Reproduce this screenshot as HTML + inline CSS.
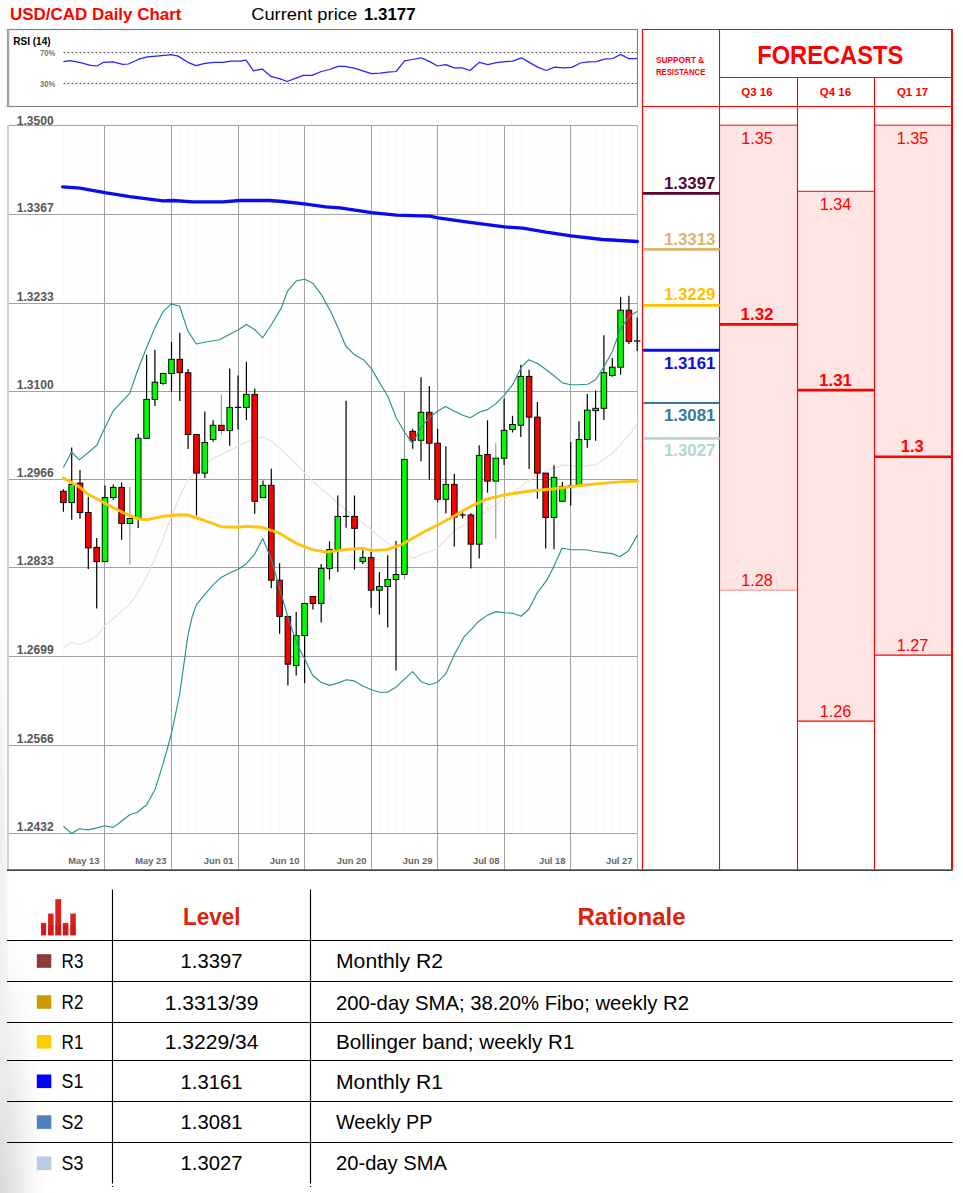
<!DOCTYPE html>
<html><head><meta charset="utf-8"><title>USD/CAD Daily Chart</title>
<style>html,body{margin:0;padding:0;background:#fff}svg{display:block}text{font-family:"Liberation Sans",sans-serif}</style></head><body>
<svg width="963" height="1193" viewBox="0 0 963 1193">
<rect width="963" height="1193" fill="#fff"/>
<defs><radialGradient id="sh" cx="0" cy="1" r="1"><stop offset="0" stop-color="#d9d9d9"/><stop offset="0.4" stop-color="#ededed"/><stop offset="1" stop-color="#fff" stop-opacity="0"/></radialGradient><radialGradient id="sh2" cx="0" cy="1" r="1"><stop offset="0" stop-color="#e6e6e6"/><stop offset="0.7" stop-color="#f2f2f2"/><stop offset="1" stop-color="#fff" stop-opacity="0"/></radialGradient></defs>
<rect x="0" y="540" width="11" height="653" fill="url(#sh2)"/>
<rect x="0" y="850" width="54" height="343" fill="url(#sh)"/>
<text x="10" y="20" font-size="16.8" font-weight="bold" fill="#f00" textLength="171.5" lengthAdjust="spacingAndGlyphs">USD/CAD Daily Chart</text>
<text x="251.2" y="19.8" font-size="16.8" fill="#000" textLength="105.9" lengthAdjust="spacingAndGlyphs">Current price</text>
<text x="363.9" y="19.8" font-size="16.8" font-weight="bold" fill="#000" textLength="51.8" lengthAdjust="spacingAndGlyphs">1.3177</text>
<rect x="7.5" y="29.5" width="630" height="77" fill="#fff" stroke="#7f7f7f" stroke-width="1.1"/>
<line x1="8.3" y1="29.5" x2="8.3" y2="106.5" stroke="#a6a6a6" stroke-width="2"/>
<text x="13.2" y="45.4" font-size="11" font-weight="bold" fill="#000" textLength="37.4" lengthAdjust="spacingAndGlyphs">RSI (14)</text>
<text x="40" y="55.7" font-size="8.2" font-weight="bold" fill="#777" textLength="15.3" lengthAdjust="spacingAndGlyphs">70%</text>
<text x="40" y="87.2" font-size="8.2" font-weight="bold" fill="#777" textLength="15.3" lengthAdjust="spacingAndGlyphs">30%</text>
<line x1="63.5" y1="52.5" x2="637" y2="52.5" stroke="#555" stroke-width="1" stroke-dasharray="2 2"/>
<line x1="63.5" y1="83.5" x2="637" y2="83.5" stroke="#555" stroke-width="1" stroke-dasharray="2 2"/>
<polyline points="63.4,61.6 70.2,60.6 80.5,62.6 90.8,65.4 97.0,66.0 103.8,62.3 113.0,61.9 122.7,64.3 128.5,64.0 138.8,59.2 147.4,56.8 159.4,55.8 171.3,54.7 178.2,56.1 187.8,62.3 196.0,65.7 205.0,63.3 214.2,62.3 222.7,62.3 231.3,61.2 239.9,61.2 246.0,60.2 253.6,70.8 262.2,69.1 271.4,76.7 279.3,78.7 287.2,81.5 295.4,78.4 303.3,75.3 311.8,75.3 321.4,71.5 329.6,69.5 337.8,66.4 344.7,66.4 354.3,68.1 362.8,70.8 371.4,73.6 380.0,73.2 387.9,72.2 396.1,71.5 404.6,60.9 412.5,59.5 421.1,57.8 429.7,61.6 437.5,66.0 445.8,64.7 454.3,67.8 462.2,67.8 470.1,70.5 479.4,62.3 487.9,64.7 496.5,62.6 505.0,61.6 512.6,61.2 521.5,57.8 529.7,62.6 537.6,67.1 546.2,70.5 554.7,67.1 563.3,67.8 571.9,67.4 580.4,63.0 588.3,61.9 596.5,61.6 604.4,59.2 613.0,58.5 620.5,54.4 628.4,58.5 637.0,58.5" fill="none" stroke="#2424f8" stroke-width="1.25" stroke-linejoin="round"/>
<g stroke="#fafafa" stroke-width="1">
<line x1="63.4" y1="126" x2="63.4" y2="833"/>
<line x1="71.7" y1="126" x2="71.7" y2="833"/>
<line x1="80.0" y1="126" x2="80.0" y2="833"/>
<line x1="88.3" y1="126" x2="88.3" y2="833"/>
<line x1="96.7" y1="126" x2="96.7" y2="833"/>
<line x1="105.0" y1="126" x2="105.0" y2="833"/>
<line x1="113.3" y1="126" x2="113.3" y2="833"/>
<line x1="121.6" y1="126" x2="121.6" y2="833"/>
<line x1="129.9" y1="126" x2="129.9" y2="833"/>
<line x1="138.2" y1="126" x2="138.2" y2="833"/>
<line x1="146.6" y1="126" x2="146.6" y2="833"/>
<line x1="154.9" y1="126" x2="154.9" y2="833"/>
<line x1="163.2" y1="126" x2="163.2" y2="833"/>
<line x1="171.5" y1="126" x2="171.5" y2="833"/>
<line x1="179.8" y1="126" x2="179.8" y2="833"/>
<line x1="188.1" y1="126" x2="188.1" y2="833"/>
<line x1="196.5" y1="126" x2="196.5" y2="833"/>
<line x1="204.8" y1="126" x2="204.8" y2="833"/>
<line x1="213.1" y1="126" x2="213.1" y2="833"/>
<line x1="221.4" y1="126" x2="221.4" y2="833"/>
<line x1="229.7" y1="126" x2="229.7" y2="833"/>
<line x1="238.0" y1="126" x2="238.0" y2="833"/>
<line x1="246.4" y1="126" x2="246.4" y2="833"/>
<line x1="254.7" y1="126" x2="254.7" y2="833"/>
<line x1="263.0" y1="126" x2="263.0" y2="833"/>
<line x1="271.3" y1="126" x2="271.3" y2="833"/>
<line x1="279.6" y1="126" x2="279.6" y2="833"/>
<line x1="287.9" y1="126" x2="287.9" y2="833"/>
<line x1="296.2" y1="126" x2="296.2" y2="833"/>
<line x1="304.6" y1="126" x2="304.6" y2="833"/>
<line x1="312.9" y1="126" x2="312.9" y2="833"/>
<line x1="321.2" y1="126" x2="321.2" y2="833"/>
<line x1="329.5" y1="126" x2="329.5" y2="833"/>
<line x1="337.8" y1="126" x2="337.8" y2="833"/>
<line x1="346.1" y1="126" x2="346.1" y2="833"/>
<line x1="354.5" y1="126" x2="354.5" y2="833"/>
<line x1="362.8" y1="126" x2="362.8" y2="833"/>
<line x1="371.1" y1="126" x2="371.1" y2="833"/>
<line x1="379.4" y1="126" x2="379.4" y2="833"/>
<line x1="387.7" y1="126" x2="387.7" y2="833"/>
<line x1="396.0" y1="126" x2="396.0" y2="833"/>
<line x1="404.4" y1="126" x2="404.4" y2="833"/>
<line x1="412.7" y1="126" x2="412.7" y2="833"/>
<line x1="421.0" y1="126" x2="421.0" y2="833"/>
<line x1="429.3" y1="126" x2="429.3" y2="833"/>
<line x1="437.6" y1="126" x2="437.6" y2="833"/>
<line x1="445.9" y1="126" x2="445.9" y2="833"/>
<line x1="454.3" y1="126" x2="454.3" y2="833"/>
<line x1="462.6" y1="126" x2="462.6" y2="833"/>
<line x1="470.9" y1="126" x2="470.9" y2="833"/>
<line x1="479.2" y1="126" x2="479.2" y2="833"/>
<line x1="487.5" y1="126" x2="487.5" y2="833"/>
<line x1="495.8" y1="126" x2="495.8" y2="833"/>
<line x1="504.1" y1="126" x2="504.1" y2="833"/>
<line x1="512.5" y1="126" x2="512.5" y2="833"/>
<line x1="520.8" y1="126" x2="520.8" y2="833"/>
<line x1="529.1" y1="126" x2="529.1" y2="833"/>
<line x1="537.4" y1="126" x2="537.4" y2="833"/>
<line x1="545.7" y1="126" x2="545.7" y2="833"/>
<line x1="554.0" y1="126" x2="554.0" y2="833"/>
<line x1="562.4" y1="126" x2="562.4" y2="833"/>
<line x1="570.7" y1="126" x2="570.7" y2="833"/>
<line x1="579.0" y1="126" x2="579.0" y2="833"/>
<line x1="587.3" y1="126" x2="587.3" y2="833"/>
<line x1="595.6" y1="126" x2="595.6" y2="833"/>
<line x1="603.9" y1="126" x2="603.9" y2="833"/>
<line x1="612.3" y1="126" x2="612.3" y2="833"/>
<line x1="620.6" y1="126" x2="620.6" y2="833"/>
<line x1="628.9" y1="126" x2="628.9" y2="833"/>
<line x1="637.2" y1="126" x2="637.2" y2="833"/>
</g>
<g stroke="#a2a2a2" stroke-width="1">
<line x1="8" y1="125.5" x2="637.5" y2="125.5"/>
<line x1="8" y1="214.5" x2="637.5" y2="214.5"/>
<line x1="8" y1="303.5" x2="637.5" y2="303.5"/>
<line x1="8" y1="391.5" x2="637.5" y2="391.5"/>
<line x1="8" y1="479.5" x2="637.5" y2="479.5"/>
<line x1="8" y1="567.5" x2="637.5" y2="567.5"/>
<line x1="8" y1="656.5" x2="637.5" y2="656.5"/>
<line x1="8" y1="745.5" x2="637.5" y2="745.5"/>
<line x1="8" y1="833.5" x2="637.5" y2="833.5"/>
<line x1="104.5" y1="125.5" x2="104.5" y2="869.5"/>
<line x1="171.5" y1="125.5" x2="171.5" y2="869.5"/>
<line x1="238.5" y1="125.5" x2="238.5" y2="869.5"/>
<line x1="304.5" y1="125.5" x2="304.5" y2="869.5"/>
<line x1="371.5" y1="125.5" x2="371.5" y2="869.5"/>
<line x1="437.5" y1="125.5" x2="437.5" y2="869.5"/>
<line x1="504.5" y1="125.5" x2="504.5" y2="869.5"/>
<line x1="570.5" y1="125.5" x2="570.5" y2="869.5"/>
</g>
<line x1="637.5" y1="125.5" x2="637.5" y2="869.5" stroke="#b5b5b5" stroke-width="1"/>
<line x1="8" y1="125" x2="8" y2="869.5" stroke="#cfcfcf" stroke-width="2"/>
<text x="16.8" y="124.7" font-size="12" font-weight="bold" fill="#555" textLength="36.8" lengthAdjust="spacingAndGlyphs">1.3500</text>
<text x="16.8" y="212.3" font-size="12" font-weight="bold" fill="#555" textLength="36.8" lengthAdjust="spacingAndGlyphs">1.3367</text>
<text x="16.8" y="301.3" font-size="12" font-weight="bold" fill="#555" textLength="36.8" lengthAdjust="spacingAndGlyphs">1.3233</text>
<text x="16.8" y="389.3" font-size="12" font-weight="bold" fill="#555" textLength="36.8" lengthAdjust="spacingAndGlyphs">1.3100</text>
<text x="16.8" y="477.3" font-size="12" font-weight="bold" fill="#555" textLength="36.8" lengthAdjust="spacingAndGlyphs">1.2966</text>
<text x="16.8" y="565.3" font-size="12" font-weight="bold" fill="#555" textLength="36.8" lengthAdjust="spacingAndGlyphs">1.2833</text>
<text x="16.8" y="654.3" font-size="12" font-weight="bold" fill="#555" textLength="36.8" lengthAdjust="spacingAndGlyphs">1.2699</text>
<text x="16.8" y="743.3" font-size="12" font-weight="bold" fill="#555" textLength="36.8" lengthAdjust="spacingAndGlyphs">1.2566</text>
<text x="16.8" y="831.3" font-size="12" font-weight="bold" fill="#555" textLength="36.8" lengthAdjust="spacingAndGlyphs">1.2432</text>
<text x="99.5" y="864.3" font-size="9.4" font-weight="bold" fill="#666" text-anchor="end">May 13</text>
<text x="166.5" y="864.3" font-size="9.4" font-weight="bold" fill="#666" text-anchor="end">May 23</text>
<text x="233.5" y="864.3" font-size="9.4" font-weight="bold" fill="#666" text-anchor="end">Jun 01</text>
<text x="299.5" y="864.3" font-size="9.4" font-weight="bold" fill="#666" text-anchor="end">Jun 10</text>
<text x="366.5" y="864.3" font-size="9.4" font-weight="bold" fill="#666" text-anchor="end">Jun 20</text>
<text x="432.5" y="864.3" font-size="9.4" font-weight="bold" fill="#666" text-anchor="end">Jun 29</text>
<text x="499.5" y="864.3" font-size="9.4" font-weight="bold" fill="#666" text-anchor="end">Jul 08</text>
<text x="565.5" y="864.3" font-size="9.4" font-weight="bold" fill="#666" text-anchor="end">Jul 18</text>
<text x="632.5" y="864.3" font-size="9.4" font-weight="bold" fill="#666" text-anchor="end">Jul 27</text>
<polyline points="63.4,647.7 71.4,642.2 79.4,644.7 88.3,641.0 97.1,636.0 104.3,626.0 113.3,618.6 121.5,611.1 129.7,604.4 137.4,593.6 146.7,576.7 155.1,558.0 162.9,539.2 171.3,516.8 179.6,496.8 188.0,479.4 196.3,471.9 204.5,464.4 213.5,458.2 229.4,450.7 246.4,442.0 262.7,436.9 271.4,441.2 279.9,448.7 297.3,464.9 312.3,481.1 329.7,496.0 347.2,511.0 364.6,524.2 379.6,537.1 396.5,549.6 408.7,556.6 415.0,557.9 421.2,554.6 432.4,550.4 437.6,548.3 454.6,530.5 471.8,520.9 479.3,515.0 504.4,499.3 528.6,480.6 546.3,470.7 562.5,464.9 579.4,466.4 595.6,464.9 612.6,453.2 629.5,434.5 637.5,423.3" fill="none" stroke="#e2e2e2" stroke-width="1.1" stroke-linejoin="round"/>
<polyline points="62.6,186.9 79.9,188.2 104.8,192.6 129.7,196.6 163.0,200.9 172.9,200.5 192.9,201.9 222.8,201.9 239.4,200.5 269.3,200.5 282.6,201.5 304.2,203.9 325.8,206.9 340.0,207.9 371.6,212.6 396.5,215.2 429.7,216.2 438.0,217.9 466.3,221.9 504.5,226.9 522.8,228.2 546.0,232.2 571.0,235.8 602.5,239.5 637.4,241.5" fill="none" stroke="#0a0af4" stroke-width="3.3" stroke-linejoin="round" stroke-linecap="round"/>
<g stroke="#000">
<line x1="63.4" y1="489.3" x2="63.4" y2="511.8" stroke="#000" stroke-width="1.2"/>
<rect x="60.6" y="491.3" width="5.6" height="11.3" fill="#fc0000" stroke-width="0.95"/>
<line x1="71.7" y1="447.5" x2="71.7" y2="519.8" stroke="#000" stroke-width="1.2"/>
<rect x="68.9" y="484.4" width="5.6" height="18.2" fill="#00fc00" stroke-width="0.95"/>
<line x1="80.0" y1="469.9" x2="80.0" y2="518.8" stroke="#000" stroke-width="1.2"/>
<rect x="77.2" y="483.1" width="5.6" height="29.4" fill="#fc0000" stroke-width="0.95"/>
<line x1="88.3" y1="496.8" x2="88.3" y2="569.1" stroke="#000" stroke-width="1.2"/>
<rect x="85.5" y="512.5" width="5.6" height="35.4" fill="#fc0000" stroke-width="0.95"/>
<line x1="96.7" y1="537.9" x2="96.7" y2="608.6" stroke="#000" stroke-width="1.2"/>
<rect x="93.9" y="547.4" width="5.6" height="14.2" fill="#fc0000" stroke-width="0.95"/>
<line x1="105.0" y1="485.6" x2="105.0" y2="561.6" stroke="#000" stroke-width="1.2"/>
<rect x="102.2" y="497.6" width="5.6" height="64.0" fill="#00fc00" stroke-width="0.95"/>
<line x1="113.3" y1="484.4" x2="113.3" y2="499.8" stroke="#000" stroke-width="1.2"/>
<rect x="110.5" y="487.4" width="5.6" height="10.2" fill="#00fc00" stroke-width="0.95"/>
<line x1="121.6" y1="482.4" x2="121.6" y2="539.7" stroke="#000" stroke-width="1.2"/>
<rect x="118.8" y="487.4" width="5.6" height="36.1" fill="#fc0000" stroke-width="0.95"/>
<line x1="129.9" y1="486.9" x2="129.9" y2="564.6" stroke="#8a8a8a" stroke-width="1.0"/>
<rect x="127.1" y="518.5" width="5.6" height="5.0" fill="#00fc00" stroke-width="0.95"/>
<line x1="138.2" y1="433.8" x2="138.2" y2="528.0" stroke="#000" stroke-width="1.2"/>
<rect x="135.4" y="438.3" width="5.6" height="80.2" fill="#00fc00" stroke-width="0.95"/>
<line x1="146.6" y1="354.8" x2="146.6" y2="438.3" stroke="#000" stroke-width="1.2"/>
<rect x="143.8" y="399.4" width="5.6" height="38.9" fill="#00fc00" stroke-width="0.95"/>
<line x1="154.9" y1="349.8" x2="154.9" y2="405.9" stroke="#000" stroke-width="1.2"/>
<rect x="152.1" y="382.2" width="5.6" height="17.2" fill="#00fc00" stroke-width="0.95"/>
<line x1="163.2" y1="372.7" x2="163.2" y2="384.7" stroke="#000" stroke-width="1.2"/>
<rect x="160.4" y="373.5" width="5.6" height="9.9" fill="#00fc00" stroke-width="0.95"/>
<line x1="171.5" y1="341.8" x2="171.5" y2="391.7" stroke="#000" stroke-width="1.2"/>
<rect x="168.7" y="359.3" width="5.6" height="14.2" fill="#00fc00" stroke-width="0.95"/>
<line x1="179.8" y1="332.8" x2="179.8" y2="400.9" stroke="#000" stroke-width="1.2"/>
<rect x="177.0" y="359.3" width="5.6" height="13.4" fill="#fc0000" stroke-width="0.95"/>
<line x1="188.1" y1="369.0" x2="188.1" y2="449.0" stroke="#000" stroke-width="1.2"/>
<rect x="185.3" y="372.7" width="5.6" height="61.8" fill="#fc0000" stroke-width="0.95"/>
<line x1="196.5" y1="434.5" x2="196.5" y2="515.5" stroke="#000" stroke-width="1.2"/>
<rect x="193.7" y="434.5" width="5.6" height="38.6" fill="#fc0000" stroke-width="0.95"/>
<line x1="204.8" y1="411.6" x2="204.8" y2="478.1" stroke="#000" stroke-width="1.2"/>
<rect x="202.0" y="442.5" width="5.6" height="30.6" fill="#00fc00" stroke-width="0.95"/>
<line x1="213.1" y1="420.3" x2="213.1" y2="441.5" stroke="#000" stroke-width="1.2"/>
<rect x="210.3" y="425.3" width="5.6" height="14.2" fill="#00fc00" stroke-width="0.95"/>
<line x1="221.4" y1="394.6" x2="221.4" y2="434.5" stroke="#8a8a8a" stroke-width="1.0"/>
<rect x="218.6" y="425.3" width="5.6" height="5.2" fill="#fc0000" stroke-width="0.95"/>
<line x1="229.7" y1="368.5" x2="229.7" y2="445.7" stroke="#000" stroke-width="1.2"/>
<rect x="226.9" y="407.6" width="5.6" height="22.9" fill="#00fc00" stroke-width="0.95"/>
<line x1="238.0" y1="375.5" x2="238.0" y2="429.5" stroke="#000" stroke-width="1.2"/>
<line x1="234.8" y1="407.4" x2="241.2" y2="407.4" stroke-width="1.2"/>
<line x1="246.4" y1="361.7" x2="246.4" y2="420.0" stroke="#000" stroke-width="1.2"/>
<rect x="243.6" y="394.4" width="5.6" height="13.0" fill="#00fc00" stroke-width="0.95"/>
<line x1="254.7" y1="388.4" x2="254.7" y2="513.8" stroke="#000" stroke-width="1.2"/>
<rect x="251.9" y="394.4" width="5.6" height="106.9" fill="#fc0000" stroke-width="0.95"/>
<line x1="263.0" y1="480.6" x2="263.0" y2="497.6" stroke="#000" stroke-width="1.2"/>
<rect x="260.2" y="485.4" width="5.6" height="12.2" fill="#00fc00" stroke-width="0.95"/>
<line x1="271.3" y1="468.7" x2="271.3" y2="588.2" stroke="#000" stroke-width="1.2"/>
<rect x="268.5" y="485.3" width="5.6" height="94.9" fill="#fc0000" stroke-width="0.95"/>
<line x1="279.6" y1="563.3" x2="279.6" y2="633.8" stroke="#000" stroke-width="1.2"/>
<rect x="276.8" y="580.2" width="5.6" height="36.2" fill="#fc0000" stroke-width="0.95"/>
<line x1="287.9" y1="616.4" x2="287.9" y2="685.4" stroke="#000" stroke-width="1.2"/>
<rect x="285.1" y="616.4" width="5.6" height="47.8" fill="#fc0000" stroke-width="0.95"/>
<line x1="296.2" y1="611.9" x2="296.2" y2="675.5" stroke="#000" stroke-width="1.2"/>
<rect x="293.4" y="635.6" width="5.6" height="29.9" fill="#00fc00" stroke-width="0.95"/>
<line x1="304.6" y1="603.4" x2="304.6" y2="682.9" stroke="#000" stroke-width="1.2"/>
<rect x="301.8" y="603.4" width="5.6" height="32.2" fill="#00fc00" stroke-width="0.95"/>
<line x1="312.9" y1="596.4" x2="312.9" y2="609.4" stroke="#000" stroke-width="1.2"/>
<rect x="310.1" y="596.4" width="5.6" height="7.0" fill="#fc0000" stroke-width="0.95"/>
<line x1="321.2" y1="564.0" x2="321.2" y2="622.4" stroke="#000" stroke-width="1.2"/>
<rect x="318.4" y="568.5" width="5.6" height="34.9" fill="#00fc00" stroke-width="0.95"/>
<line x1="329.5" y1="541.4" x2="329.5" y2="579.5" stroke="#000" stroke-width="1.2"/>
<rect x="326.7" y="549.6" width="5.6" height="18.9" fill="#00fc00" stroke-width="0.95"/>
<line x1="337.8" y1="495.5" x2="337.8" y2="572.0" stroke="#000" stroke-width="1.2"/>
<rect x="335.0" y="516.4" width="5.6" height="33.2" fill="#00fc00" stroke-width="0.95"/>
<line x1="346.1" y1="400.8" x2="346.1" y2="527.7" stroke="#000" stroke-width="1.2"/>
<line x1="342.9" y1="516.4" x2="349.3" y2="516.4" stroke-width="1.2"/>
<line x1="354.5" y1="495.5" x2="354.5" y2="569.5" stroke="#000" stroke-width="1.2"/>
<rect x="351.7" y="516.4" width="5.6" height="12.0" fill="#fc0000" stroke-width="0.95"/>
<line x1="362.8" y1="550.3" x2="362.8" y2="564.0" stroke="#000" stroke-width="1.2"/>
<rect x="360.0" y="557.6" width="5.6" height="4.0" fill="#00fc00" stroke-width="0.95"/>
<line x1="371.1" y1="552.1" x2="371.1" y2="607.7" stroke="#000" stroke-width="1.2"/>
<rect x="368.3" y="557.6" width="5.6" height="32.6" fill="#fc0000" stroke-width="0.95"/>
<line x1="379.4" y1="572.0" x2="379.4" y2="614.4" stroke="#000" stroke-width="1.2"/>
<rect x="376.6" y="586.5" width="5.6" height="3.7" fill="#00fc00" stroke-width="0.95"/>
<line x1="387.7" y1="555.3" x2="387.7" y2="627.4" stroke="#000" stroke-width="1.2"/>
<rect x="384.9" y="579.5" width="5.6" height="7.0" fill="#00fc00" stroke-width="0.95"/>
<line x1="396.0" y1="540.9" x2="396.0" y2="670.5" stroke="#000" stroke-width="1.2"/>
<rect x="393.2" y="574.5" width="5.6" height="5.0" fill="#00fc00" stroke-width="0.95"/>
<line x1="404.4" y1="391.4" x2="404.4" y2="579.5" stroke="#8a8a8a" stroke-width="1.0"/>
<rect x="401.6" y="459.4" width="5.6" height="115.1" fill="#00fc00" stroke-width="0.95"/>
<line x1="412.7" y1="428.7" x2="412.7" y2="448.8" stroke="#000" stroke-width="1.2"/>
<rect x="409.9" y="431.3" width="5.6" height="9.0" fill="#fc0000" stroke-width="0.95"/>
<line x1="421.0" y1="377.2" x2="421.0" y2="461.2" stroke="#000" stroke-width="1.2"/>
<rect x="418.2" y="412.3" width="5.6" height="28.0" fill="#00fc00" stroke-width="0.95"/>
<line x1="429.3" y1="385.9" x2="429.3" y2="479.4" stroke="#000" stroke-width="1.2"/>
<rect x="426.5" y="412.3" width="5.6" height="30.9" fill="#fc0000" stroke-width="0.95"/>
<line x1="437.6" y1="428.8" x2="437.6" y2="502.4" stroke="#000" stroke-width="1.2"/>
<rect x="434.8" y="443.2" width="5.6" height="56.1" fill="#fc0000" stroke-width="0.95"/>
<line x1="445.9" y1="446.2" x2="445.9" y2="513.6" stroke="#000" stroke-width="1.2"/>
<rect x="443.1" y="484.4" width="5.6" height="14.9" fill="#00fc00" stroke-width="0.95"/>
<line x1="454.3" y1="473.7" x2="454.3" y2="546.5" stroke="#000" stroke-width="1.2"/>
<rect x="451.5" y="484.4" width="5.6" height="32.7" fill="#fc0000" stroke-width="0.95"/>
<line x1="462.6" y1="510.0" x2="462.6" y2="518.6" stroke="#000" stroke-width="1.2"/>
<line x1="459.4" y1="515.0" x2="465.8" y2="515.0" stroke-width="1.2"/>
<line x1="470.9" y1="513.2" x2="470.9" y2="568.4" stroke="#000" stroke-width="1.2"/>
<rect x="468.1" y="515.0" width="5.6" height="29.2" fill="#fc0000" stroke-width="0.95"/>
<line x1="479.2" y1="445.3" x2="479.2" y2="558.4" stroke="#000" stroke-width="1.2"/>
<rect x="476.4" y="455.4" width="5.6" height="88.8" fill="#00fc00" stroke-width="0.95"/>
<line x1="487.5" y1="420.3" x2="487.5" y2="492.6" stroke="#000" stroke-width="1.2"/>
<rect x="484.7" y="454.5" width="5.6" height="26.6" fill="#fc0000" stroke-width="0.95"/>
<line x1="495.8" y1="443.2" x2="495.8" y2="538.7" stroke="#8a8a8a" stroke-width="1.0"/>
<rect x="493.0" y="458.2" width="5.6" height="22.9" fill="#00fc00" stroke-width="0.95"/>
<line x1="504.1" y1="398.4" x2="504.1" y2="464.9" stroke="#000" stroke-width="1.2"/>
<rect x="501.3" y="430.3" width="5.6" height="27.9" fill="#00fc00" stroke-width="0.95"/>
<line x1="512.5" y1="415.8" x2="512.5" y2="432.5" stroke="#000" stroke-width="1.2"/>
<rect x="509.7" y="424.5" width="5.6" height="5.0" fill="#00fc00" stroke-width="0.95"/>
<line x1="520.8" y1="364.7" x2="520.8" y2="437.0" stroke="#000" stroke-width="1.2"/>
<rect x="518.0" y="376.4" width="5.6" height="48.9" fill="#00fc00" stroke-width="0.95"/>
<line x1="529.1" y1="369.7" x2="529.1" y2="468.9" stroke="#000" stroke-width="1.2"/>
<rect x="526.3" y="376.4" width="5.6" height="40.7" fill="#fc0000" stroke-width="0.95"/>
<line x1="537.4" y1="402.1" x2="537.4" y2="498.8" stroke="#000" stroke-width="1.2"/>
<rect x="534.6" y="417.1" width="5.6" height="56.0" fill="#fc0000" stroke-width="0.95"/>
<line x1="545.7" y1="473.1" x2="545.7" y2="548.4" stroke="#000" stroke-width="1.2"/>
<rect x="542.9" y="473.1" width="5.6" height="44.4" fill="#fc0000" stroke-width="0.95"/>
<line x1="554.0" y1="465.2" x2="554.0" y2="549.2" stroke="#000" stroke-width="1.2"/>
<rect x="551.2" y="477.4" width="5.6" height="40.1" fill="#00fc00" stroke-width="0.95"/>
<line x1="562.4" y1="481.9" x2="562.4" y2="501.3" stroke="#000" stroke-width="1.2"/>
<rect x="559.6" y="486.4" width="5.6" height="14.9" fill="#00fc00" stroke-width="0.95"/>
<line x1="570.7" y1="442.0" x2="570.7" y2="505.5" stroke="#000" stroke-width="1.2"/>
<line x1="567.5" y1="485.9" x2="573.9" y2="485.9" stroke-width="1.2"/>
<line x1="579.0" y1="421.3" x2="579.0" y2="485.9" stroke="#000" stroke-width="1.2"/>
<rect x="576.2" y="439.5" width="5.6" height="46.4" fill="#00fc00" stroke-width="0.95"/>
<line x1="587.3" y1="393.9" x2="587.3" y2="447.7" stroke="#000" stroke-width="1.2"/>
<rect x="584.5" y="410.1" width="5.6" height="29.4" fill="#00fc00" stroke-width="0.95"/>
<line x1="595.6" y1="390.4" x2="595.6" y2="440.7" stroke="#000" stroke-width="1.2"/>
<rect x="592.8" y="408.3" width="5.6" height="2.3" fill="#00fc00" stroke-width="0.95"/>
<line x1="603.9" y1="335.3" x2="603.9" y2="420.1" stroke="#000" stroke-width="1.2"/>
<rect x="601.1" y="372.7" width="5.6" height="35.6" fill="#00fc00" stroke-width="0.95"/>
<line x1="612.3" y1="358.0" x2="612.3" y2="376.7" stroke="#000" stroke-width="1.2"/>
<rect x="609.5" y="367.2" width="5.6" height="8.3" fill="#00fc00" stroke-width="0.95"/>
<line x1="620.6" y1="296.9" x2="620.6" y2="374.7" stroke="#000" stroke-width="1.2"/>
<rect x="617.8" y="310.2" width="5.6" height="57.0" fill="#00fc00" stroke-width="0.95"/>
<line x1="628.9" y1="295.7" x2="628.9" y2="344.0" stroke="#000" stroke-width="1.2"/>
<rect x="626.1" y="310.2" width="5.6" height="31.4" fill="#fc0000" stroke-width="0.95"/>
<line x1="637.2" y1="317.4" x2="637.2" y2="351.0" stroke="#000" stroke-width="1.2"/>
<line x1="634.0" y1="341.0" x2="640.4" y2="341.0" stroke-width="1.2"/>
</g>
<polyline points="63.4,467.4 71.4,452.0 79.4,459.9 88.3,452.5 97.1,445.0 101.0,435.8 113.3,410.8 121.5,402.1 129.7,393.4 137.4,371.0 146.7,347.3 155.1,327.4 162.9,311.9 171.3,303.9 179.6,306.2 188.0,331.1 196.3,344.0 204.5,342.3 219.4,339.8 238.4,329.8 246.4,324.6 254.6,329.5 262.7,337.8 271.4,324.5 281.1,308.6 287.4,291.2 296.6,280.7 304.8,279.2 312.8,283.2 321.5,294.9 331.0,312.3 338.4,328.5 345.7,346.0 354.4,354.7 363.4,359.7 371.6,368.9 379.3,382.1 387.5,395.8 396.5,418.3 404.5,432.0 412.5,443.6 421.3,426.4 429.4,417.6 437.5,411.2 445.5,406.5 454.6,411.2 463.3,415.5 470.5,417.7 479.6,412.0 487.5,409.6 495.7,403.9 504.4,395.1 512.6,384.7 521.4,367.2 528.6,359.8 537.6,363.5 546.3,369.7 554.3,376.0 562.5,382.9 570.5,384.7 579.4,384.7 587.7,384.2 595.6,379.7 604.4,366.0 612.6,351.0 620.6,328.6 629.5,316.1 637.5,311.2" fill="none" stroke="#2a9090" stroke-width="1.15" stroke-linejoin="round"/>
<polyline points="63.4,826.2 71.4,833.4 79.4,828.7 88.3,829.9 97.1,827.9 104.3,825.7 113.3,827.4 121.5,821.2 129.7,814.7 137.4,812.2 146.7,804.7 155.1,789.3 162.9,764.4 171.3,734.5 179.6,694.6 188.0,634.8 192.0,617.3 196.3,604.9 204.5,594.9 213.5,584.4 221.2,577.4 229.4,573.0 238.4,569.3 246.4,563.7 254.6,554.3 262.7,538.5 271.4,559.4 279.9,589.5 288.6,619.4 297.3,644.3 304.8,659.3 312.8,675.5 321.0,682.2 329.5,685.4 338.4,682.9 346.4,679.7 354.4,680.9 363.4,686.2 371.6,689.7 379.3,692.2 387.5,692.2 396.5,686.7 404.5,679.2 412.5,671.7 421.2,681.7 429.4,684.7 437.6,682.2 445.6,674.2 454.6,654.3 464.0,636.9 471.8,628.8 478.2,621.7 488.0,614.9 496.3,611.6 504.5,612.7 512.6,613.2 521.1,616.2 529.0,609.0 537.0,593.3 546.8,580.2 553.4,567.6 562.1,548.0 570.4,549.7 586.1,549.7 594.8,551.5 612.3,553.6 619.9,556.7 628.6,550.8 637.6,534.9" fill="none" stroke="#2a9090" stroke-width="1.15" stroke-linejoin="round"/>
<polyline points="63.4,478.1 71.4,482.4 79.4,486.9 88.3,494.3 104.3,503.1 121.5,511.8 137.4,518.8 146.7,519.8 162.9,516.3 179.6,514.8 188.0,515.0 204.5,520.5 221.2,526.7 238.4,527.2 246.4,526.2 262.7,527.5 279.9,533.4 297.3,543.9 312.3,549.6 326.0,552.1 344.7,549.6 363.4,548.3 371.6,550.4 387.0,549.6 402.0,544.3 421.2,533.4 438.1,524.7 454.6,515.8 470.5,506.5 486.0,499.3 504.4,494.8 528.6,491.3 554.3,488.8 579.4,485.6 595.6,483.9 620.6,481.9 637.5,481.1" fill="none" stroke="#ffc20e" stroke-width="2.9" stroke-linejoin="round" stroke-linecap="round"/>
<line x1="7" y1="870.2" x2="952.8" y2="870.2" stroke="#000" stroke-width="1.3"/>
<rect x="719.5" y="125.2" width="78" height="465" fill="#ffe4e4"/>
<rect x="797.5" y="191.3" width="77" height="530" fill="#ffe4e4"/>
<rect x="874.5" y="125.2" width="77.5" height="530" fill="#ffe4e4"/>
<g stroke="#ff0000" fill="none">
<line x1="719.2" y1="125.2" x2="797.4" y2="125.2" stroke-width="1"/>
<line x1="874.1" y1="125.2" x2="951.9" y2="125.2" stroke-width="1"/>
<line x1="797.4" y1="191.3" x2="874.1" y2="191.3" stroke-width="1"/>
<line x1="719.2" y1="590.2" x2="797.4" y2="590.2" stroke-width="0.8" stroke="#ff7070"/>
<line x1="797.4" y1="721.2" x2="874.1" y2="721.2" stroke-width="1.2"/>
<line x1="874.1" y1="655.2" x2="951.9" y2="655.2" stroke-width="1.2"/>
<line x1="719.2" y1="324.4" x2="797.4" y2="324.4" stroke-width="2.6"/>
<line x1="797.4" y1="390.1" x2="874.1" y2="390.1" stroke-width="2.6"/>
<line x1="874.1" y1="456.8" x2="951.9" y2="456.8" stroke-width="2.6"/>
<line x1="642.5" y1="29" x2="642.5" y2="869.5" stroke-width="1.2"/>
<line x1="952" y1="29" x2="952" y2="869.5" stroke-width="2"/>
<line x1="641.9" y1="29.5" x2="953" y2="29.5" stroke-width="1.2"/>
<line x1="719.5" y1="29.7" x2="719.5" y2="869.5" stroke-width="1.1"/>
<line x1="797.5" y1="77.1" x2="797.5" y2="869.5" stroke-width="1.1"/>
<line x1="874.5" y1="77.1" x2="874.5" y2="869.5" stroke-width="1.1"/>
<line x1="719.5" y1="77.5" x2="952" y2="77.5" stroke-width="1.1"/>
<line x1="642.5" y1="106.5" x2="952" y2="106.5" stroke-width="1.1"/>
</g>
<text x="655.9" y="63.2" font-size="8.6" font-weight="bold" fill="#ff0000" textLength="48.4" lengthAdjust="spacingAndGlyphs">SUPPORT &amp;</text>
<text x="655.9" y="75.3" font-size="8.6" font-weight="bold" fill="#ff0000" textLength="49.5" lengthAdjust="spacingAndGlyphs">RESISTANCE</text>
<text x="757.2" y="63.9" font-size="26" font-weight="bold" fill="#ff0000" textLength="146" lengthAdjust="spacingAndGlyphs">FORECASTS</text>
<text x="741.3" y="95.7" font-size="10.6" font-weight="bold" fill="#ff0000" textLength="31.3" lengthAdjust="spacingAndGlyphs">Q3 16</text>
<text x="819.8" y="95.7" font-size="10.6" font-weight="bold" fill="#ff0000" textLength="31.3" lengthAdjust="spacingAndGlyphs">Q4 16</text>
<text x="896.9" y="95.7" font-size="10.6" font-weight="bold" fill="#ff0000" textLength="31.3" lengthAdjust="spacingAndGlyphs">Q1 17</text>
<text x="741.2" y="143.5" font-size="15.6" fill="#ff0000" textLength="31.5" lengthAdjust="spacingAndGlyphs">1.35</text>
<text x="896.8" y="143.5" font-size="15.6" fill="#ff0000" textLength="31.5" lengthAdjust="spacingAndGlyphs">1.35</text>
<text x="819.8" y="209.6" font-size="15.6" fill="#ff0000" textLength="31.5" lengthAdjust="spacingAndGlyphs">1.34</text>
<text x="740.5" y="319.9" font-size="15.6" font-weight="bold" fill="#ff0000" textLength="33" lengthAdjust="spacingAndGlyphs">1.32</text>
<text x="819.0" y="385.6" font-size="15.6" font-weight="bold" fill="#ff0000" textLength="33" lengthAdjust="spacingAndGlyphs">1.31</text>
<text x="900.7" y="452.3" font-size="15.6" font-weight="bold" fill="#ff0000" textLength="23.2" lengthAdjust="spacingAndGlyphs">1.3</text>
<text x="741.2" y="585.7" font-size="15.6" fill="#ff0000" textLength="31.5" lengthAdjust="spacingAndGlyphs">1.28</text>
<text x="896.8" y="651.4" font-size="15.6" fill="#ff0000" textLength="31.5" lengthAdjust="spacingAndGlyphs">1.27</text>
<text x="819.8" y="717.1" font-size="15.6" fill="#ff0000" textLength="31.5" lengthAdjust="spacingAndGlyphs">1.26</text>
<line x1="644" y1="193.4" x2="718.6" y2="193.4" stroke="#58062f" stroke-width="2.9" stroke-linecap="round"/>
<text x="663.9" y="188.8" font-size="16" font-weight="bold" fill="#58062f" textLength="51.5" lengthAdjust="spacingAndGlyphs">1.3397</text>
<line x1="644" y1="249.3" x2="718.6" y2="249.3" stroke="#d9b56e" stroke-width="2.7" stroke-linecap="round"/>
<text x="663.9" y="244.9" font-size="16" font-weight="bold" fill="#d9b56e" textLength="51.5" lengthAdjust="spacingAndGlyphs">1.3313</text>
<line x1="644" y1="305.4" x2="718.6" y2="305.4" stroke="#ffc000" stroke-width="2.7" stroke-linecap="round"/>
<text x="663.9" y="300.2" font-size="16" font-weight="bold" fill="#ffc000" textLength="51.5" lengthAdjust="spacingAndGlyphs">1.3229</text>
<line x1="644" y1="350.2" x2="718.6" y2="350.2" stroke="#0d0de0" stroke-width="2.9" stroke-linecap="round"/>
<text x="663.9" y="368.6" font-size="16" font-weight="bold" fill="#0d0de0" textLength="51.5" lengthAdjust="spacingAndGlyphs">1.3161</text>
<line x1="644" y1="403.0" x2="718.6" y2="403.0" stroke="#35779f" stroke-width="2.1" stroke-linecap="round"/>
<text x="663.9" y="420.5" font-size="16" font-weight="bold" fill="#35779f" textLength="51.5" lengthAdjust="spacingAndGlyphs">1.3081</text>
<line x1="644" y1="438.4" x2="718.6" y2="438.4" stroke="#b4d6d3" stroke-width="2.7" stroke-linecap="round"/>
<text x="663.9" y="456.1" font-size="16" font-weight="bold" fill="#b4d6d3" textLength="51.5" lengthAdjust="spacingAndGlyphs">1.3027</text>
<g stroke="#000" stroke-width="1.15">
<line x1="7" y1="940.5" x2="952.7" y2="940.5"/>
<line x1="7" y1="981.5" x2="952.7" y2="981.5"/>
<line x1="7" y1="1022.5" x2="952.7" y2="1022.5"/>
<line x1="7" y1="1060.5" x2="952.7" y2="1060.5"/>
<line x1="7" y1="1101.5" x2="952.7" y2="1101.5"/>
<line x1="7" y1="1142.5" x2="952.7" y2="1142.5"/>
<line x1="112.5" y1="889.5" x2="112.5" y2="1183.5"/>
<line x1="310.5" y1="889.5" x2="310.5" y2="1183.5"/>
<line x1="112.5" y1="1186" x2="112.5" y2="1187"/>
<line x1="310.5" y1="1186" x2="310.5" y2="1187"/>
</g>
<rect x="41.1" y="922.9" width="5.0" height="12.4" fill="#dc1f1f"/>
<rect x="41.1" y="925" width="5.0" height="10.3" fill="#c41818" opacity="0.6"/>
<rect x="48.1" y="913.6" width="5.5" height="21.7" fill="#dc1f1f"/>
<rect x="48.1" y="925" width="5.5" height="10.3" fill="#c41818" opacity="0.6"/>
<rect x="55.3" y="899.2" width="5.8" height="36.1" fill="#dc1f1f"/>
<rect x="55.3" y="925" width="5.8" height="10.3" fill="#c41818" opacity="0.6"/>
<rect x="62.8" y="922.9" width="5.5" height="12.4" fill="#dc1f1f"/>
<rect x="62.8" y="925" width="5.5" height="10.3" fill="#c41818" opacity="0.6"/>
<rect x="70.3" y="913.6" width="5.5" height="21.7" fill="#dc1f1f"/>
<rect x="70.3" y="925" width="5.5" height="10.3" fill="#c41818" opacity="0.6"/>
<text x="183" y="924.9" font-size="24.2" font-weight="bold" fill="#de2208" textLength="57.5" lengthAdjust="spacingAndGlyphs">Level</text>
<text x="577.5" y="924.9" font-size="24.2" font-weight="bold" fill="#de2208" textLength="108" lengthAdjust="spacingAndGlyphs">Rationale</text>
<rect x="36.8" y="954.2" width="14.5" height="13.6" fill="#8e3a3a"/>
<text x="61.6" y="967.9" font-size="20.2" fill="#000" textLength="21.8" lengthAdjust="spacingAndGlyphs">R3</text>
<text x="180.6" y="968.3" font-size="20.2" fill="#000" textLength="61.8" lengthAdjust="spacingAndGlyphs">1.3397</text>
<text x="336" y="968.3" font-size="20.2" fill="#000" textLength="107" lengthAdjust="spacingAndGlyphs">Monthly R2</text>
<rect x="36.8" y="995.2" width="14.5" height="13.6" fill="#cc9900"/>
<text x="61.6" y="1009.2" font-size="20.2" fill="#000" textLength="21.8" lengthAdjust="spacingAndGlyphs">R2</text>
<text x="164.7" y="1009.6" font-size="20.2" fill="#000" textLength="93.7" lengthAdjust="spacingAndGlyphs">1.3313/39</text>
<text x="336" y="1009.6" font-size="20.2" fill="#000" textLength="353" lengthAdjust="spacingAndGlyphs">200-day SMA; 38.20% Fibo; weekly R2</text>
<rect x="36.8" y="1035.0" width="14.5" height="13.6" fill="#ffcc00"/>
<text x="61.6" y="1048.6" font-size="20.2" fill="#000" textLength="21.8" lengthAdjust="spacingAndGlyphs">R1</text>
<text x="164.7" y="1049.0" font-size="20.2" fill="#000" textLength="93.7" lengthAdjust="spacingAndGlyphs">1.3229/34</text>
<text x="336" y="1049.0" font-size="20.2" fill="#000" textLength="238.4" lengthAdjust="spacingAndGlyphs">Bollinger band; weekly R1</text>
<rect x="36.8" y="1074.5" width="14.5" height="13.6" fill="#0000ff"/>
<text x="61.6" y="1088.1" font-size="20.2" fill="#000" textLength="21.8" lengthAdjust="spacingAndGlyphs">S1</text>
<text x="180.6" y="1088.5" font-size="20.2" fill="#000" textLength="61.8" lengthAdjust="spacingAndGlyphs">1.3161</text>
<text x="336" y="1088.5" font-size="20.2" fill="#000" textLength="107" lengthAdjust="spacingAndGlyphs">Monthly R1</text>
<rect x="36.8" y="1115.3" width="14.5" height="13.6" fill="#4f81bd"/>
<text x="61.6" y="1128.6" font-size="20.2" fill="#000" textLength="21.8" lengthAdjust="spacingAndGlyphs">S2</text>
<text x="180.6" y="1129.0" font-size="20.2" fill="#000" textLength="61.8" lengthAdjust="spacingAndGlyphs">1.3081</text>
<text x="336" y="1129.0" font-size="20.2" fill="#000" textLength="96.5" lengthAdjust="spacingAndGlyphs">Weekly PP</text>
<rect x="36.8" y="1156.5" width="14.5" height="13.6" fill="#b8cce4"/>
<text x="61.6" y="1170.0" font-size="20.2" fill="#000" textLength="21.8" lengthAdjust="spacingAndGlyphs">S3</text>
<text x="180.6" y="1170.4" font-size="20.2" fill="#000" textLength="61.8" lengthAdjust="spacingAndGlyphs">1.3027</text>
<text x="336" y="1170.4" font-size="20.2" fill="#000" textLength="110.9" lengthAdjust="spacingAndGlyphs">20-day SMA</text>
</svg></body></html>
